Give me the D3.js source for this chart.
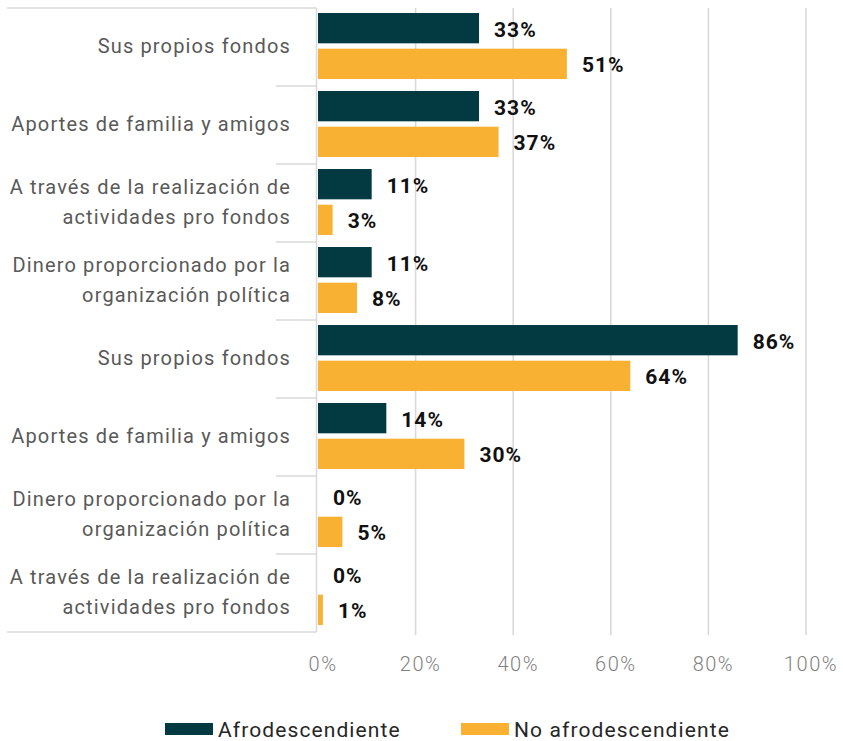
<!DOCTYPE html>
<html>
<head>
<meta charset="utf-8">
<script src="https://cdn.jsdelivr.net/npm/d3@7"></script>
<style>
  body { margin: 0; background: #fff; }
  svg { font-family: Roboto, "Open Sans", sans-serif; }
</style>
</head>
<body>
<div class="chart-holder"></div>
<script>
// categories top to bottom (two blocks of answers, labels repeat)
var categories = [
  "Sus propios fondos",
  "Aportes de familia y amigos",
  "A través de la realización de\nactividades pro fondos",
  "Dinero proporcionado por la\norganización política",
  "Sus propios fondos",
  "Aportes de familia y amigos",
  "Dinero proporcionado por la\norganización política",
  "A través de la realización de\nactividades pro fondos"
];
var seriesNames = ["Afrodescendiente", "No afrodescendiente"];
var afroValues = [33, 33, 11, 11, 86, 14, 0, 0];
var noAfroValues = [51, 37, 3, 8, 64, 30, 5, 1];
var xTicks = [0, 20, 40, 60, 80, 100];

var colors = ["#033a41", "#f8b133"];

var W = 843, H = 741;
var margin = {top: 8, left: 318, right: 37, bottom: 109};

var svg = d3.select(".chart-holder").append("svg")
  .attr("width", W).attr("height", H);

var scaleX = d3.scaleLinear().domain([0, 100]).range([margin.left, W - margin.right]);
var scaleY = d3.scaleBand().domain(d3.range(categories.length))
  .range([margin.top, H - margin.bottom]).paddingInner(0);
var bandH = scaleY.bandwidth();
var scaleSub = d3.scaleBand().domain([0, 1]).range([5, bandH - 7]).paddingInner(0.15);

var plotBottom = H - margin.bottom;

/* gridlines */
svg.append("g").selectAll("line")
  .data(xTicks.slice(1))
  .enter().append("line")
  .attr("x1", d => scaleX(d)).attr("x2", d => scaleX(d))
  .attr("y1", margin.top).attr("y2", plotBottom + 3)
  .attr("stroke", "#d9d9d9").attr("stroke-width", 1.6);

/* category axis frame */
var frame = svg.append("g").attr("stroke", "#d9d9d9").attr("stroke-width", 1.5);
frame.append("line").attr("x1", margin.left - 1.5).attr("x2", margin.left - 1.5)
  .attr("y1", margin.top).attr("y2", plotBottom);
frame.append("line").attr("x1", 7).attr("x2", margin.left - 1.5)
  .attr("y1", margin.top).attr("y2", margin.top);
frame.append("line").attr("x1", 7).attr("x2", margin.left - 1.5)
  .attr("y1", plotBottom).attr("y2", plotBottom);
frame.selectAll("line.sep")
  .data(d3.range(1, categories.length))
  .enter().append("line").attr("class", "sep")
  .attr("x1", 276).attr("x2", margin.left - 1.5)
  .attr("y1", d => scaleY(d)).attr("y2", d => scaleY(d));

/* category labels */
var lineH = 30;
svg.append("g").selectAll("text")
  .data(categories)
  .enter().append("text")
  .attr("text-anchor", "end")
  .attr("fill", "#595959")
  .style("font-size", "20px")
  .style("letter-spacing", "1.15px")
  .each(function(d, i) {
    var lines = d.split("\n");
    var cy = scaleY(i) + bandH / 2 - 1;
    var el = d3.select(this);
    lines.forEach(function(ln, j) {
      el.append("tspan")
        .attr("x", 291)
        .attr("y", cy + (j - (lines.length - 1) / 2) * lineH)
        .attr("dy", "0.35em")
        .text(ln);
    });
  });

/* bars */
var rows = categories.map((c, i) => ({i: i, vals: [afroValues[i], noAfroValues[i]]}));
var gRows = svg.append("g").selectAll("g")
  .data(rows)
  .enter().append("g")
  .attr("transform", d => `translate(0, ${scaleY(d.i)})`);

gRows.selectAll("rect")
  .data(d => d.vals.map((v, s) => ({v: v, s: s})))
  .enter().append("rect")
  .attr("x", scaleX(0))
  .attr("y", d => scaleSub(d.s))
  .attr("width", d => scaleX(d.v) - scaleX(0))
  .attr("height", scaleSub.bandwidth())
  .attr("fill", d => colors[d.s]);

gRows.selectAll("text")
  .data(d => d.vals.map((v, s) => ({v: v, s: s})))
  .enter().append("text")
  .attr("x", d => scaleX(d.v) + 15)
  .attr("y", d => scaleSub(d.s) + scaleSub.bandwidth() / 2 + 1)
  .attr("dy", "0.35em")
  .attr("fill", "#111")
  .style("font-size", "21px")
  .style("font-weight", "bold")
  .style("letter-spacing", "1px")
  .text(d => d.v + "%");

/* x tick labels */
svg.append("g").selectAll("text")
  .data(xTicks)
  .enter().append("text")
  .attr("x", d => scaleX(d) + 5)
  .attr("y", 664)
  .attr("dy", "0.35em")
  .attr("text-anchor", "middle")
  .attr("fill", "#7f7f7f")
  .style("font-size", "20px")
  .style("font-weight", 300)
  .style("letter-spacing", "1.5px")
  .text(d => d + "%");

/* legend */
var legendX = [165, 461];
var legend = svg.append("g").style("font-size", "21px").style("letter-spacing", "1.1px");
seriesNames.forEach(function(name, s) {
  legend.append("rect").attr("x", legendX[s]).attr("y", 723)
    .attr("width", 48).attr("height", 12).attr("fill", colors[s]);
  legend.append("text").attr("x", legendX[s] + 53).attr("y", 730)
    .attr("dy", "0.35em").attr("fill", "#262626").text(name);
});
</script>
</body>
</html>
